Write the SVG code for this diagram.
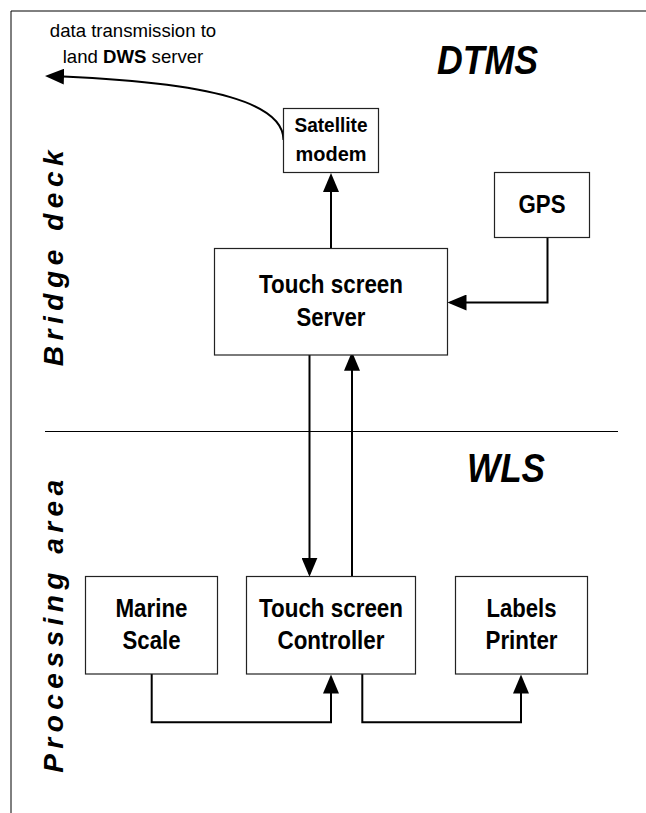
<svg xmlns="http://www.w3.org/2000/svg" width="646" height="813" viewBox="0 0 646 813">
<style>
.frame{stroke:#000;stroke-width:1;fill:none}
.box{fill:#fff;stroke:#222;stroke-width:1.2}
.lbl{font-family:"Liberation Sans Narrow","Liberation Sans",Arial,sans-serif;font-weight:bold;font-size:26px;fill:#000;text-anchor:middle}
.sm{font-family:"Liberation Sans",Arial,sans-serif;font-weight:bold;font-size:20px;fill:#000;text-anchor:middle}
.title{font-family:"Liberation Sans Narrow","Liberation Sans",Arial,sans-serif;font-weight:bold;font-style:italic;font-size:40px;fill:#000}
.side{font-family:"Liberation Sans",Arial,sans-serif;font-weight:bold;font-style:italic;font-size:28px;fill:#000;text-anchor:middle}
.note{font-family:"Liberation Sans",Arial,sans-serif;font-size:18.6px;fill:#000;text-anchor:middle}
.conn{fill:none;stroke:#000;stroke-width:2;stroke-linejoin:miter}
</style>
<defs>
<marker id="ah" markerUnits="userSpaceOnUse" markerWidth="19" markerHeight="16" refX="16" refY="8" orient="auto">
<path d="M0,0 L19,8 L0,16 z" fill="#000"/>
</marker>
</defs>
<g id="frame">
<line class="frame" x1="11" y1="11" x2="646" y2="11"/>
<line class="frame" x1="11" y1="11" x2="11" y2="813"/>
<line class="frame" x1="45" y1="431.5" x2="618" y2="431.5"/>
</g>
<g id="labels">
<text class="title" x="437" y="74" textLength="101" lengthAdjust="spacingAndGlyphs">DTMS</text>
<text class="title" x="467" y="481.7" textLength="78" lengthAdjust="spacingAndGlyphs">WLS</text>
<text class="side" transform="translate(63,258.3) rotate(-90)" x="0" y="0" textLength="216" lengthAdjust="spacing">Bridge deck</text>
<text class="side" transform="translate(63,626.3) rotate(-90)" x="0" y="0" textLength="293" lengthAdjust="spacing">Processing area</text>
<text class="note" x="133" y="37.3">data transmission to</text>
<text class="note" x="133" y="63.3">land <tspan font-weight="bold">DWS</tspan> server</text>
</g>
<g id="connectors">
<path class="conn" d="M283.5,140 C283.5,105 220,82 48,76" marker-end="url(#ah)"/>
<path class="conn" d="M331,253 V176" marker-end="url(#ah)"/>
<path class="conn" d="M547.5,237 V302.5 H450.5" marker-end="url(#ah)"/>
<path class="conn" d="M309.5,355 V573.7" marker-end="url(#ah)"/>
<path class="conn" d="M352,576.7 V354.7" marker-end="url(#ah)"/>
<path class="conn" d="M151.7,674 V722.3 H331 V677.5" marker-end="url(#ah)"/>
<path class="conn" d="M362.3,674 V722.3 H521 V677.5" marker-end="url(#ah)"/>
</g>
<g id="satellite">
<rect class="box" x="283.5" y="108.5" width="95" height="64"/>
<text class="sm" x="331" y="132" textLength="73" lengthAdjust="spacingAndGlyphs">Satellite</text>
<text class="sm" x="331" y="160.5" textLength="71" lengthAdjust="spacingAndGlyphs">modem</text>
</g>
<g id="gps">
<rect class="box" x="494.5" y="172.5" width="95" height="65"/>
<text class="lbl" x="542" y="212.7" textLength="47" lengthAdjust="spacingAndGlyphs">GPS</text>
</g>
<g id="server">
<rect class="box" x="214.5" y="248.5" width="233" height="106.5"/>
<text class="lbl" x="331" y="292.7" textLength="144" lengthAdjust="spacingAndGlyphs">Touch screen</text>
<text class="lbl" x="331" y="326" textLength="69" lengthAdjust="spacingAndGlyphs">Server</text>
</g>
<g id="marine">
<rect class="box" x="85.5" y="576.5" width="132" height="97.5"/>
<text class="lbl" x="151.5" y="616.7" textLength="72" lengthAdjust="spacingAndGlyphs">Marine</text>
<text class="lbl" x="151.5" y="649.3" textLength="58" lengthAdjust="spacingAndGlyphs">Scale</text>
</g>
<g id="controller">
<rect class="box" x="246.5" y="576.5" width="169" height="97.5"/>
<text class="lbl" x="331" y="616.7" textLength="144" lengthAdjust="spacingAndGlyphs">Touch screen</text>
<text class="lbl" x="331" y="649.3" textLength="107" lengthAdjust="spacingAndGlyphs">Controller</text>
</g>
<g id="printer">
<rect class="box" x="455.5" y="576.5" width="132" height="97.5"/>
<text class="lbl" x="521.5" y="616.7" textLength="70" lengthAdjust="spacingAndGlyphs">Labels</text>
<text class="lbl" x="521.5" y="649.3" textLength="72" lengthAdjust="spacingAndGlyphs">Printer</text>
</g>
</svg>
